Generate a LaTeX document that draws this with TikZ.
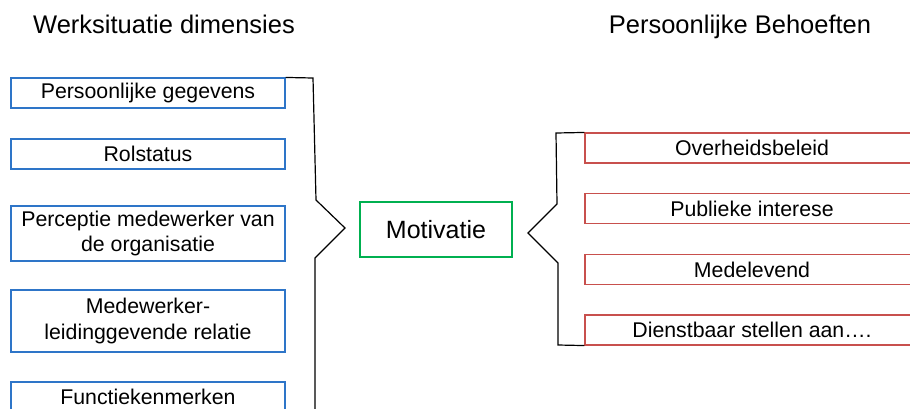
\documentclass[tikz,border=0pt]{standalone}
\usepackage{fontspec}
\setmainfont{Liberation Sans}
\definecolor{boxblue}{RGB}{46,117,200}
\definecolor{boxred}{RGB}{200,80,77}
\definecolor{boxgreen}{RGB}{0,176,80}
\tikzset{
  dimbox/.style={draw=boxblue, line width=1.1pt, minimum width=274pt, inner sep=0pt,
    align=center, font=\fontsize{21.3}{25.5}\selectfont},
  needbox/.style={draw=boxred, line width=1.1pt, minimum width=334pt, minimum height=30pt,
    inner sep=0pt, align=center, font=\fontsize{21.3}{25}\selectfont},
  centerbox/.style={draw=boxgreen, line width=1.3pt, minimum width=152pt, minimum height=55pt,
    inner sep=0pt, font=\fontsize{25}{30}\selectfont},
  heading/.style={inner sep=0pt, anchor=base, font=\fontsize{25.5}{30}\selectfont},
  bracket/.style={draw=black, line width=1.2pt, line join=miter}
}
\begin{document}
\begin{tikzpicture}[x=1pt, y=-1pt]
\useasboundingbox (0,0) rectangle (910,408);
\clip (0,0) rectangle (910,408);

% column headings
\node[heading] (hleft) at (164,33) {Werksituatie dimensies};
\node[heading] (hright) at (740,33) {Persoonlijke Behoeften};

% work situation dimensions
\node[dimbox, minimum height=30pt] (d1) at (148,93) {Persoonlijke gegevens};
\node[dimbox, minimum height=30pt] (d2) at (148,154) {Rolstatus};
\node[dimbox, minimum height=55pt] (d3) at (148,233.5) {Perceptie medewerker van\\de organisatie};
\node[dimbox, minimum height=62pt] (d4) at (148,321) {Medewerker-\\leidinggevende relatie};
\node[dimbox, minimum height=30pt, text depth=0pt] (d5) at (148,397) {Functiekenmerken};

% central concept
\node[centerbox] (mot) at (436,229.5) {Motivatie};

% personal needs
\node[needbox] (n1) at (752,148) {Overheidsbeleid};
\node[needbox] (n2) at (752,208.5) {Publieke interese};
\node[needbox] (n3) at (752,269.5) {Medelevend};
\node[needbox] (n4) at (752,330) {Dienstbaar stellen aan\dots.};

% left brace pointing at the central box
\coordinate (lb1) at (313,78);
\coordinate (lb2) at (316,200);
\coordinate (ltip) at (345,228);
\coordinate (lb3) at (315,258);
\coordinate (lb4) at (315,420);
\draw[bracket] (d1.north east) -- (lb1) -- (lb2) -- (ltip) -- (lb3) -- (lb4);

% right brace pointing at the central box
\coordinate (rb1) at (556,133);
\coordinate (rb2) at (557,204);
\coordinate (rtip) at (528,233);
\coordinate (rb3) at (558,263);
\coordinate (rb4) at (558,345);
\draw[bracket] (n1.north west) -- (rb1) -- (rb2) -- (rtip) -- (rb3) -- (rb4) -- (n4.south west);
\end{tikzpicture}
\end{document}
